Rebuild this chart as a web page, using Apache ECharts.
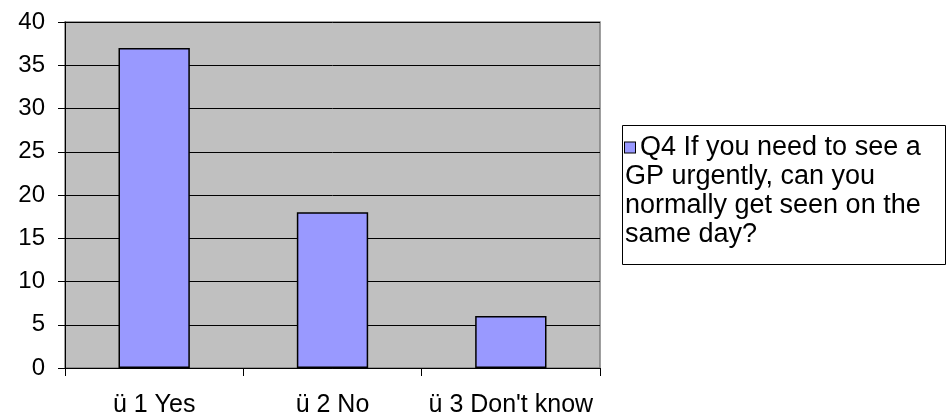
<!DOCTYPE html>
<html>
<head>
<meta charset="utf-8">
<script src="https://cdn.jsdelivr.net/npm/echarts@6/dist/echarts.min.js"></script>
<style>
html,body{margin:0;padding:0;background:#fff;}
#chart{width:946px;height:419px;}
</style>
</head>
<body>
<div id="chart"></div>
<script>
const categories = ['ü 1 Yes', 'ü 2 No', "ü 3 Don't know"];
const values = [37, 18, 6];
const seriesName = 'Q4 If you need to see a GP urgently, can you normally get seen on the same day?';
const legendLines = ['Q4 If you need to see a', 'GP urgently, can you', 'normally get seen on the', 'same day?'];
const yTicks = [0, 5, 10, 15, 20, 25, 30, 35, 40];

const FONT = '"Liberation Sans", Arial, sans-serif';
const LH = 29;
const BAR_COLOR = '#9999ff';

const chart = echarts.init(document.getElementById('chart'), null, {renderer: 'canvas'});
chart.setOption({
  backgroundColor: '#ffffff',
  animation: false,
  textStyle: {fontFamily: FONT},
  grid: {
    left: 65, right: 346, top: 22, bottom: 51,
    show: true, backgroundColor: '#c0c0c0', borderColor: '#808080', borderWidth: 1.5
  },
  xAxis: {
    type: 'category',
    data: categories,
    axisLine: {show: true, lineStyle: {color: '#000', width: 1}},
    axisTick: {show: true, alignWithLabel: false, length: 8, lineStyle: {color: '#000'}},
    axisLabel: {color: '#000', fontSize: 25, fontFamily: FONT, margin: 25, interval: 0},
    splitLine: {show: false}
  },
  yAxis: {
    type: 'value',
    min: yTicks[0], max: yTicks[yTicks.length - 1], interval: 5,
    axisLine: {show: true, lineStyle: {color: '#000', width: 1}},
    axisTick: {show: true, length: 7, lineStyle: {color: '#000'}},
    axisLabel: {color: '#000', fontSize: 24, fontFamily: FONT, margin: 20},
    splitLine: {show: true, lineStyle: {color: '#000', width: 1}}
  },
  legend: {
    show: true,
    orient: 'vertical',
    left: 620,
    top: 133,
    padding: 0,
    itemWidth: 0,
    itemHeight: 0,
    icon: 'rect',
    itemStyle: {opacity: 0, borderWidth: 0},
    formatter: function () {
      return '{ic| }{sp| }' + legendLines.join('\n');
    },
    textStyle: {
      color: '#000', fontSize: 27, fontFamily: FONT, lineHeight: LH,
      rich: {
        ic: {width: 10, height: 10, backgroundColor: BAR_COLOR, borderColor: '#000', borderWidth: 1, verticalAlign: 'middle', fontSize: 27, lineHeight: LH},
        sp: {width: 5, fontSize: 27, lineHeight: LH}
      }
    },
    data: [seriesName]
  },
  graphic: [{
    type: 'rect',
    left: 622, top: 125, z: -1,
    shape: {width: 323, height: 139},
    style: {fill: '#fff', stroke: '#000', lineWidth: 1}
  }],
  series: [{
    name: seriesName,
    type: 'bar',
    data: values,
    barWidth: '40%',
    itemStyle: {color: BAR_COLOR, borderColor: '#000', borderWidth: 1.5},
    emphasis: {disabled: true}
  }]
});
</script>
</body>
</html>
